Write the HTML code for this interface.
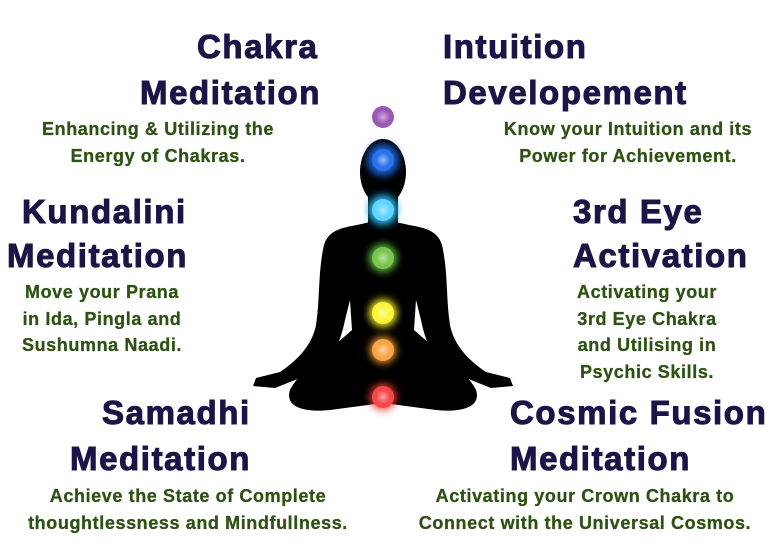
<!DOCTYPE html>
<html><head><meta charset="utf-8"><style>
html,body{margin:0;padding:0;background:#fff;}
#c{position:relative;width:768px;height:550px;overflow:hidden;background:#fff;}
.h{position:absolute;font-family:"Liberation Sans",sans-serif;font-weight:bold;font-size:33px;letter-spacing:1.6px;color:#1c1447;line-height:40px;white-space:nowrap;-webkit-text-stroke:1px #1c1447;}
.s{position:absolute;font-family:"Liberation Sans",sans-serif;font-weight:bold;font-size:18px;letter-spacing:0.6px;color:#2f5214;line-height:26.5px;text-align:center;white-space:nowrap;-webkit-text-stroke:0.3px #2f5214;}
</style></head><body><div id="c">
<svg width="768" height="550" style="position:absolute;left:0;top:0">
<defs>
<radialGradient id="g"><stop offset="0" stop-color="#fff" stop-opacity="0.5"/><stop offset="1" stop-color="#fff" stop-opacity="0"/></radialGradient>
<filter id="bl"><feGaussianBlur stdDeviation="4"/></filter>
</defs>
<g fill="#000">
<ellipse cx="383" cy="172" rx="23" ry="33"/>
<rect x="368" y="195" width="30" height="35"/>
<path d="M370 222 C348 228 330 226 324 245 C318 270 320 300 316 325 C312 345 298 360 280 372 L256 378 L253 386 L275 388 L300 378 C330 368 340 345 345 320 L350 300 L352 330 C330 350 300 370 290 390 C285 405 300 413 330 410 L383 403 L436 410 C466 413 481 405 476 390 C466 370 436 350 414 330 L416 300 L421 320 C426 345 436 368 466 378 L491 388 L513 386 L510 378 L486 372 C468 360 454 345 450 325 C446 300 448 270 442 245 C436 226 418 228 396 222 Z"/>
</g>
<g filter="url(#bl)">
<circle cx="383" cy="160" r="16" fill="#1f5fd6"/>
<circle cx="383" cy="210" r="15" fill="#29b8f0"/>
<circle cx="383" cy="258" r="14" fill="#5cb83a"/>
<circle cx="383" cy="313" r="14" fill="#f2ef2a"/>
<circle cx="383" cy="350" r="13" fill="#f59c32"/>
<circle cx="383" cy="397" r="13" fill="#f03b3b"/>
</g>
<circle cx="383" cy="160" r="11" fill="#2d72e8"/>
<circle cx="383" cy="210" r="11" fill="#5fd4ff"/>
<circle cx="383" cy="258" r="11" fill="#7cc44c"/>
<circle cx="383" cy="313" r="11" fill="#fbf43a"/>
<circle cx="383" cy="350" r="11" fill="#f7a545"/>
<circle cx="383" cy="397" r="11" fill="#f24848"/>
<circle cx="383" cy="117" r="11" fill="#9b59b6"/>
<g fill="url(#g)"><circle cx="383" cy="160" r="7"/><circle cx="383" cy="210" r="7"/><circle cx="383" cy="258" r="7"/><circle cx="383" cy="313" r="7"/><circle cx="383" cy="350" r="7"/><circle cx="383" cy="397" r="7"/><circle cx="383" cy="117" r="7"/></g>
</svg>

<div class="h" style="left:197px;top:27px">Chakra</div>
<div class="h" style="left:140px;top:73px">Meditation</div>
<div class="s" style="left:8px;width:300px;top:116px">Enhancing &amp; Utilizing the<br>Energy of Chakras.</div>

<div class="h" style="left:443px;top:27px">Intuition</div>
<div class="h" style="left:443px;top:73px">Developement</div>
<div class="s" style="left:478px;width:300px;top:116px">Know your Intuition and its<br>Power for Achievement.</div>

<div class="h" style="left:22px;top:192px">Kundalini</div>
<div class="h" style="left:7px;top:236px">Meditation</div>
<div class="s" style="left:2px;width:200px;top:279px">Move your Prana<br>in Ida, Pingla and<br>Sushumna Naadi.</div>

<div class="h" style="left:573px;top:192px">3rd Eye</div>
<div class="h" style="left:573px;top:236px">Activation</div>
<div class="s" style="left:547px;width:200px;top:279px">Activating your<br>3rd Eye Chakra<br>and Utilising in<br>Psychic Skills.</div>

<div class="h" style="left:102px;top:393px">Samadhi</div>
<div class="h" style="left:70px;top:439px">Meditation</div>
<div class="s" style="left:18px;width:340px;top:483px">Achieve the State of Complete<br>thoughtlessness and Mindfullness.</div>

<div class="h" style="left:510px;top:393px">Cosmic Fusion</div>
<div class="h" style="left:510px;top:439px">Meditation</div>
<div class="s" style="left:405px;width:360px;top:483px">Activating your Crown Chakra to<br>Connect with the Universal Cosmos.</div>
</div></body></html>
